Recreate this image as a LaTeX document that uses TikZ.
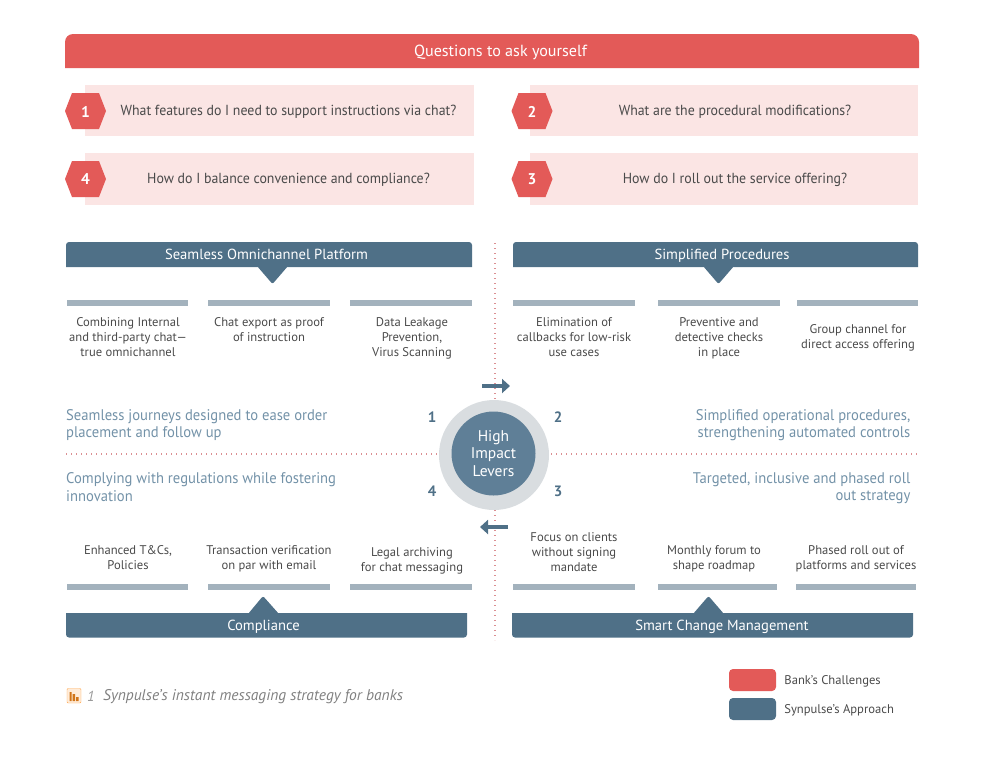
\documentclass[tikz,border=0pt]{standalone}
\usepackage{fontspec}
\setmainfont{PT Sans}
\newfontfamily\narrowfont[FakeStretch=0.95]{PT Sans}
\usepackage{tikz}
\usetikzlibrary{
  calc,%
  shapes.geometric,%
  arrows.meta,
  positioning
}
\definecolor{bankred}{HTML}{E35A58}
\definecolor{palered}{HTML}{FBE5E4}
\definecolor{slateblue}{HTML}{4F7087}
\definecolor{midblue}{HTML}{5F7F97}
\definecolor{softblue}{HTML}{7392A8}
\definecolor{tickgray}{HTML}{A3B2BD}
\definecolor{ringgray}{HTML}{D9DDE0}
\definecolor{inkgray}{HTML}{4A4A4A}
\definecolor{dotpink}{HTML}{DB8F93}
\tikzset{font=\normalsize}
\tikzset{
  question/.style={text=inkgray, font=\narrowfont\fontsize{14.6}{18}\selectfont, align=center},
  hexnum/.style={text=white, font=\bfseries\fontsize{15.5}{18}\selectfont},
  bartitle/.style={text=white, font=\fontsize{14.6}{18}\selectfont},
  item/.style={text=inkgray, font=\fontsize{12.6}{15}\selectfont, align=center, inner sep=0pt},
  goal/.style={text=softblue, font=\narrowfont\fontsize{15.4}{17.3}\selectfont, inner sep=0pt},
  lever/.style={text=slateblue, font=\bfseries\fontsize{15}{18}\selectfont},
  tick/.style={fill=tickgray},
  dotline/.style={dotpink, line width=1.2pt, dash pattern=on 1.2pt off 3.8pt},
  leverarrow/.style={slateblue, line width=3.6pt, -{Triangle[length=8pt, width=14pt]}}
}
\begin{document}
\begin{tikzpicture}[x=1pt, y=-1pt]
  \useasboundingbox (0,0) rectangle (1000,756); %
  % questions
  \fill[bankred] (65,68) [rounded corners=8pt]-- (65,34) -- (919,34) [sharp corners]-- (919,68) -- cycle; %
  \node[bartitle, font=\fontsize{16.1}{18}\selectfont] (questions) at (500.5,52) {Questions to ask yourself}; %
  \fill[palered] (85,85) rectangle (474,136); %
  \fill[palered] (530,85) rectangle (918,136); %
  \fill[palered] (85,153) rectangle (474,205); %
  \fill[palered] (530,153) rectangle (918,205); %
  \foreach \name/\n/\hx/\hy in {hexa/1/85.5/111, hexb/2/532/111, hexc/3/532/179, hexd/4/85.5/179} {
    \fill[bankred] (\hx-20.5,\hy) -- (\hx-13.5,\hy-18) -- (\hx+13.5,\hy-18) -- (\hx+20.5,\hy) -- (\hx+13.5,\hy+18) -- (\hx-13.5,\hy+18) -- cycle; %
    \node[hexnum] (\name) at (\hx,\hy+0.5) {\n}; %
  }
  \node[question] (qa) at (288.5,112) {What features do I need to support instructions via chat?}; %
  \node[question] (qb) at (735,112) {What are the procedural modifications?}; %
  \node[question] (qc) at (735,180) {How do I roll out the service offering?}; %
  \node[question] (qd) at (288.5,180) {How do I balance convenience and compliance?}; %
  % dotted cross
  \coordinate (crosstop) at (495,243); %
  \coordinate (crossbottom) at (495,640); %
  \coordinate (crossleft) at (66,454); %
  \coordinate (crossright) at (918,454); %
  % centre
  \fill[ringgray] (494,455) circle[radius=55]; %
  \node[circle, fill=midblue, minimum size=84pt, inner sep=0pt, text=white, align=center, font=\fontsize{15.5}{17.3}\selectfont] (levers) at (493.5,453.5) {High\\Impact\\Levers}; %
  \coordinate (ringtop) at (495,400); %
  \coordinate (ringbottom) at (495,510); %
  \coordinate (ringleft) at (437,454); %
  \coordinate (ringright) at (551,454); %
  \coordinate (topfrom) at (482,386); %
  \coordinate (topto) at (510,386); %
  \coordinate (botfrom) at (508,527); %
  \coordinate (botto) at (480,527); %
  \draw[dotline] (crosstop) -- (ringtop); %
  \draw[dotline] (ringbottom) -- (crossbottom); %
  \draw[dotline] (crossleft) -- (ringleft); %
  \draw[dotline] (ringright) -- (crossright); %
  \draw[leverarrow] (topfrom) -- (topto); %
  \draw[leverarrow] (botfrom) -- (botto); %
  \node[lever] (levera) at (432,417) {1}; %
  \node[lever] (leverb) at (558,417) {2}; %
  \node[lever] (leverc) at (558,491) {3}; %
  \node[lever] (leverd) at (432,491) {4}; %
  % top bars
  \fill[slateblue] (66,267) [rounded corners=3pt]-- (66,242) -- (472,242) [sharp corners]-- (472,267) -- cycle; %
  \fill[slateblue, rounded corners=2pt] (257,266) -- (272.5,284) -- (288,266) -- cycle; %
  \node[bartitle] (platform) at (266.5,254.5) {Seamless Omnichannel Platform}; %
  \fill[slateblue] (513,267) [rounded corners=3pt]-- (513,242) -- (918,242) [sharp corners]-- (918,267) -- cycle; %
  \fill[slateblue, rounded corners=2pt] (703,266) -- (718.5,284) -- (734,266) -- cycle; %
  \node[bartitle] (procedures) at (722,255.5) {Simplified Procedures}; %
  % bottom bars
  \fill[slateblue] (66,613) [rounded corners=3pt]-- (66,637.5) -- (467,637.5) [sharp corners]-- (467,613) -- cycle; %
  \fill[slateblue, rounded corners=2pt] (248,614) -- (263,596) -- (279,614) -- cycle; %
  \node[bartitle] (compliance) at (263.5,627) {Compliance}; %
  \fill[slateblue] (512,613) [rounded corners=3pt]-- (512,637.5) -- (913,637.5) [sharp corners]-- (913,613) -- cycle; %
  \fill[slateblue, rounded corners=2pt] (693,614) -- (708.5,596) -- (724,614) -- cycle; %
  \node[bartitle] (change) at (722,627) {Smart Change Management}; %
  % ticks
  \foreach \xa/\xb in {67/188, 208/330, 350/472, 513/635, 658/780, 797/918}
    \fill[tick] (\xa,300) rectangle (\xb,306); %
  \foreach \xa/\xb in {67/188, 208/330, 350/472, 513/635, 658/777, 796/916}
    \fill[tick] (\xa,584) rectangle (\xb,589.5); %
  % top items
  \node[item] (itema) at (128,337) {Combining Internal\\and third-party chat—\\true omnichannel}; %
  \node[item] (itemb) at (269,330) {Chat export as proof\\of instruction}; %
  \node[item] (itemc) at (412,338) {Data Leakage\\Prevention,\\Virus Scanning}; %
  \node[item] (itemd) at (574,337) {Elimination of\\callbacks for low-risk\\use cases}; %
  \node[item] (iteme) at (719,338) {Preventive and\\detective checks\\in place}; %
  \node[item] (itemf) at (858,338) {Group channel for\\direct access offering}; %
  % bottom items
  \node[item] (itemg) at (128,558) {Enhanced T\&Cs,\\Policies}; %
  \node[item] (itemh) at (269,558.5) {Transaction verification\\on par with email}; %
  \node[item] (itemi) at (412,560.5) {Legal archiving\\for chat messaging}; %
  \node[item] (itemj) at (574,552) {Focus on clients\\without signing\\mandate}; %
  \node[item] (itemk) at (714,558.5) {Monthly forum to\\shape roadmap}; %
  \node[item] (iteml) at (856,558.5) {Phased roll out of\\platforms and services}; %
  % goals
  \node[goal, align=left, anchor=west] (goala) at (66,425) {Seamless journeys designed to ease order\\placement and follow up}; %
  \node[goal, align=right, anchor=east] (goalb) at (910.5,425) {Simplified operational procedures,\\strengthening automated controls}; %
  \node[goal, align=left, anchor=west] (goalc) at (66,487) {Complying with regulations while fostering\\innovation}; %
  \node[goal, align=right, anchor=east] (goald) at (910.5,488) {Targeted, inclusive and phased roll\\out strategy}; %
  % caption
  \draw[orange!70!white, fill=orange!15!white, rounded corners=1pt] (67,688.5) rectangle (81,703); %
  \fill[orange!80!black!90!white] (69.5,692) rectangle (71.5,701) (72.5,694) rectangle (75,701) (76,697) rectangle (78.5,701); %
  \node[anchor=west, inner sep=0pt, text=gray!80, font=\itshape\fontsize{14.5}{16}\selectfont] (capnum) at (87,696.5) {1}; %
  \node[anchor=west, inner sep=0pt, text=gray, font=\itshape\fontsize{15.5}{18}\selectfont] (caption) at (103,696.5) {Synpulse’s instant messaging strategy for banks}; %
  % legend
  \node[fill=bankred, rounded corners=4pt, minimum width=47pt, minimum height=22pt, inner sep=0pt] (legred) at (752.5,680) {}; %
  \node[fill=slateblue, rounded corners=4pt, minimum width=47pt, minimum height=22pt, inner sep=0pt] (legblue) at (752.5,709) {}; %
  \node[item, anchor=west, right=8pt of legred, yshift=-1pt] (legredtext) {Bank’s Challenges}; %
  \node[item, anchor=west, right=8pt of legblue, yshift=-1pt] (legbluetext) {Synpulse’s Approach}; %
\end{tikzpicture}
\end{document}
